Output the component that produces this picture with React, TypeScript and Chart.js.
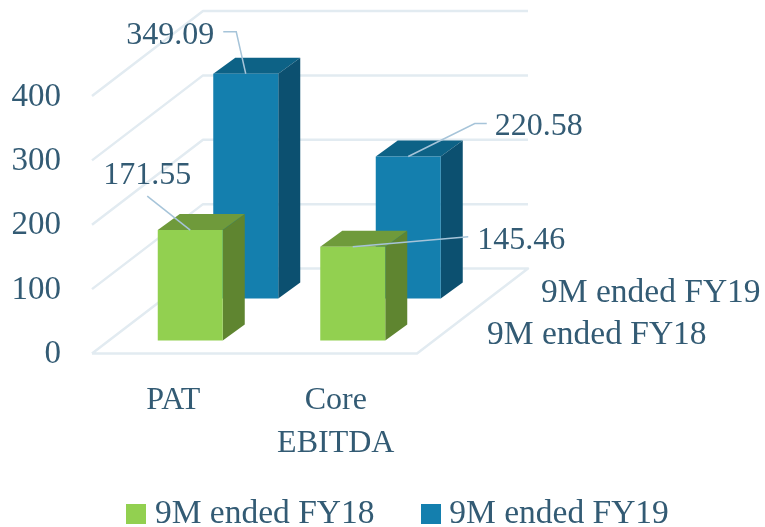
import { useEffect, useRef } from "react";
import { Chart, registerables } from "chart.js";

Chart.register(...registerables);

const categories = [["PAT"], ["Core", "EBITDA"]];
const seriesNames = ["9M ended FY18", "9M ended FY19"];
const fy18Values = [171.55, 145.46];
const fy19Values = [349.09, 220.58];
const yTicks = { min: 0, max: 400, step: 100 };

const TEXT = "#335B74";
const FONT = "'Liberation Serif', serif";
const GRID = "#E2EBF1";
const LEADER = "#A6C4D9";

const faces = [
  { front: "#92D050", top: "#6F9A3B", side: "#5F8530" },
  { front: "#147FAE", top: "#0D6286", side: "#0C5070" },
];

// 3D projection, in pixels
const floorShift = -1;
const backWall = { dx: 111, dy: -85 };
const barDepth = { dx: 22, dy: -16 };
const seriesShift = [
  { dx: 17, dy: -14 },
  { dx: 72.5, dy: -56 },
];
// leader polylines and label anchors, relative to the centre of the bar's top edge
const leaders = [
  [
    { line: [[-43, -34]], label: [-43, -54], align: "center" },
    { line: [[115.5, -10]], label: [124.5, -6], align: "left" },
  ],
  [
    { line: [[-9.5, -42], [-22.5, -42]], label: [-31.5, -38], align: "right" },
    { line: [[66.5, -33], [78.5, -33]], label: [86.5, -30], align: "left" },
  ],
];

function makeSwatch(color: string) {
  const c = document.createElement("canvas");
  c.width = 20;
  c.height = 20;
  const g = c.getContext("2d")!;
  g.fillStyle = color;
  g.fillRect(0, 0, 20, 20);
  return c;
}

const threeD = {
  id: "threeD",
  afterLayout(chart: any) {
    // the legend's row sits higher than its box, which overlaps the two-line axis labels
    chart.legend.top -= 31;
    chart.legend.bottom -= 31;
  },
  beforeDatasetsDraw(chart: any) {
    const { ctx, chartArea, scales } = chart;
    const y = scales.y;
    const { left, right } = chartArea;
    ctx.save();
    ctx.strokeStyle = GRID;
    ctx.lineWidth = 2.5;
    ctx.lineJoin = "round";
    for (const t of y.ticks) {
      const py = y.getPixelForValue(t.value) + floorShift;
      ctx.beginPath();
      ctx.moveTo(left, py);
      ctx.lineTo(left + backWall.dx, py + backWall.dy);
      ctx.lineTo(right + backWall.dx, py + backWall.dy);
      if (t.value === 0) {
        ctx.lineTo(right, py);
        ctx.lineTo(left, py);
      }
      ctx.stroke();
    }
    ctx.restore();
  },
  beforeDatasetDraw(chart: any, args: any) {
    const { ctx } = chart;
    const s = seriesShift[args.index];
    const c = faces[args.index];
    ctx.save();
    ctx.translate(s.dx, s.dy);
    for (const el of args.meta.data) {
      const l = el.x - el.width / 2;
      const r = el.x + el.width / 2;
      ctx.fillStyle = c.top;
      ctx.beginPath();
      ctx.moveTo(l, el.y);
      ctx.lineTo(l + barDepth.dx, el.y + barDepth.dy);
      ctx.lineTo(r + barDepth.dx, el.y + barDepth.dy);
      ctx.lineTo(r, el.y);
      ctx.closePath();
      ctx.fill();
      ctx.fillStyle = c.side;
      ctx.beginPath();
      ctx.moveTo(r, el.y);
      ctx.lineTo(r + barDepth.dx, el.y + barDepth.dy);
      ctx.lineTo(r + barDepth.dx, el.base + barDepth.dy);
      ctx.lineTo(r, el.base);
      ctx.closePath();
      ctx.fill();
    }
  },
  afterDatasetDraw(chart: any) {
    chart.ctx.restore();
  },
  afterDatasetsDraw(chart: any) {
    const { ctx, chartArea, scales } = chart;
    ctx.save();
    ctx.font = `32px ${FONT}`;
    ctx.textBaseline = "middle";
    chart.data.datasets.forEach((ds: any, di: number) => {
      const meta = chart.getDatasetMeta(di);
      const s = seriesShift[di];
      meta.data.forEach((el: any, i: number) => {
        const x0 = el.x + s.dx;
        const y0 = el.y + s.dy;
        const spec = leaders[di][i];
        ctx.strokeStyle = LEADER;
        ctx.lineWidth = 1.5;
        ctx.beginPath();
        ctx.moveTo(x0, y0);
        for (const [dx, dy] of spec.line) ctx.lineTo(x0 + dx, y0 + dy);
        ctx.stroke();
        ctx.fillStyle = TEXT;
        ctx.textAlign = spec.align;
        ctx.fillText(ds.data[i].toFixed(2), x0 + spec.label[0], y0 + spec.label[1]);
      });
    });
    // depth axis labels
    const floorY = scales.y.getPixelForValue(0);
    ctx.font = `33.5px ${FONT}`;
    ctx.textAlign = "left";
    ctx.fillStyle = TEXT;
    ctx.fillText(seriesNames[0], chartArea.right + 70, floorY - 19);
    ctx.fillText(seriesNames[1], chartArea.right + 124, floorY - 61);
    ctx.restore();
  },
};

export default function App() {
  const ref = useRef<HTMLCanvasElement>(null);
  useEffect(() => {
    const swatches = faces.map((f) => makeSwatch(f.front));
    const chart = new Chart(ref.current!, {
      type: "bar",
      plugins: [threeD],
      data: {
        labels: categories,
        datasets: [
          { label: seriesNames[0], data: fy18Values, backgroundColor: faces[0].front, clip: false },
          { label: seriesNames[1], data: fy19Values, backgroundColor: faces[1].front, clip: false },
        ],
      } as any,
      options: {
        animation: false,
        responsive: false,
        maintainAspectRatio: false,
        layout: { padding: { left: 0, right: -38, top: 97, bottom: -45 } },
        datasets: { bar: { grouped: false, barPercentage: 0.4, categoryPercentage: 1 } },
        plugins: {
          tooltip: { enabled: false },
          legend: {
            position: "bottom",
            labels: {
              usePointStyle: true,
              pointStyleWidth: 4,
              padding: 54,
              color: TEXT,
              font: { family: FONT, size: 33.5 },
              generateLabels: (c: any) =>
                Chart.defaults.plugins.legend.labels
                  .generateLabels(c)
                  .map((it: any, i: number) => ({ ...it, pointStyle: swatches[i] })),
            },
          },
        },
        scales: {
          x: {
            grid: { display: false, drawTicks: false },
            border: { display: false },
            ticks: {
              color: TEXT,
              padding: 25,
              maxRotation: 0,
              autoSkip: false,
              font: { family: FONT, size: 32, lineHeight: 1.34 },
            },
            afterFit: (s: any) => { s.height = 120; },
          },
          y: {
            min: yTicks.min,
            max: yTicks.max,
            grid: { display: false, drawTicks: false },
            border: { display: false },
            ticks: {
              stepSize: yTicks.step,
              color: TEXT,
              padding: 31,
              font: { family: FONT, size: 33 },
            },
            afterFit: (s: any) => { s.width = 92; },
          },
          spacer: {
            type: "linear",
            position: "right",
            display: true,
            grid: { display: false, drawTicks: false },
            border: { display: false },
            ticks: { display: false },
            afterFit: (s: any) => { s.width = 386; },
          },
        },
      },
    } as any);
    return () => chart.destroy();
  }, []);
  return (
    <div style={{ position: "absolute", left: 0, top: 0, width: 765, height: 527 }}>
      <canvas ref={ref} width={765} height={527} style={{ display: "block" }} />
    </div>
  );
}
